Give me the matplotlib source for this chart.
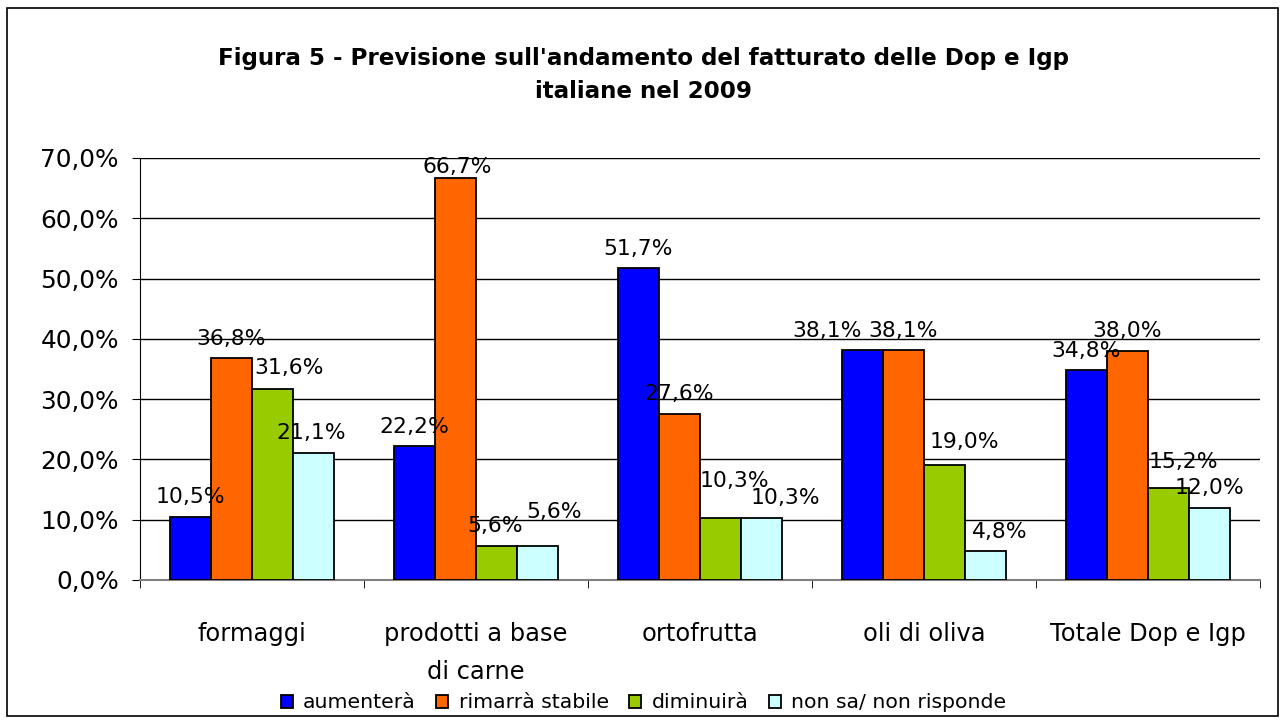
import matplotlib
matplotlib.use("Agg")
import matplotlib.pyplot as plt
import numpy as np
from matplotlib.patches import Rectangle

categories = ["formaggi", "prodotti a base\ndi carne", "ortofrutta", "oli di oliva", "Totale Dop e Igp"]
series_names = ["aumenterà", "rimarrà stabile", "diminuirà", "non sa/ non risponde"]
aumentera = [10.5, 22.2, 51.7, 38.1, 34.8]
stabile = [36.8, 66.7, 27.6, 38.1, 38.0]
diminuira = [31.6, 5.6, 10.3, 19.0, 15.2]
non_sa = [21.1, 5.6, 10.3, 4.8, 12.0]
colors = ["#0000FF", "#FF6600", "#99CC00", "#CCFFFF"]
yticks = [0, 10, 20, 30, 40, 50, 60, 70]
title_lines = ["Figura 5 - Previsione sull'andamento del fatturato delle Dop e Igp",
               "italiane nel 2009"]

# label nudges in pixels (dx, dy) per series, per category
label_nudge_px = [
    [(0, 0), (0, 0), (0, 0), (-35, 0), (0, 0)],
    [(0, 0), (2, -8.5), (0, 0), (0, 0), (0, 0)],
    [(17, 2), (-1, 1), (14, 17), (20, 4), (15, 7)],
    [(-2, 0), (17, 15), (24, 0), (14, 0), (0, 0)],
]

W, H = 1287, 726
plt.rcParams['font.family'] = ['DejaVu Sans']
fig = plt.figure(figsize=(W / 100, H / 100), dpi=100)
renderer = fig.canvas.get_renderer()


def fit_size(s, target_px, weight="normal"):
    t = fig.text(0, 0, s, fontsize=10, fontweight=weight)
    wpx = t.get_window_extent(renderer).width
    t.remove()
    return 10 * target_px / wpx


fs_tick = fit_size("70,0%", 78)
fs_cat = fit_size("formaggi", 109)
fs_lab = fit_size("10,5%", 69)
fs_leg = fit_size("aumenterà", 112)
fs_title = fit_size(title_lines[0], 853, "bold")

ax = fig.add_axes([140 / W, 1 - 580 / H, 1120 / W, 422 / H])

px = 0.72  # points per pixel
x = np.arange(len(categories))
w = 0.183
data = [aumentera, stabile, diminuira, non_sa]
for i, (vals, c, name) in enumerate(zip(data, colors, series_names)):
    pos = x + (i - 1.5) * w
    ax.bar(pos, vals, w, color=c, edgecolor="black", linewidth=1.3, label=name, zorder=3)
    for j, (p, v) in enumerate(zip(pos, vals)):
        dx, dy = label_nudge_px[i][j]
        ax.annotate(f"{v:.1f}%".replace(".", ","), xy=(p, v),
                    xytext=(dx * px, (13.5 + dy) * px), textcoords="offset points",
                    ha="center", va="baseline", fontsize=fs_lab, zorder=4,
                    annotation_clip=False)

ax.set_xlim(-0.5, len(categories) - 0.5)
ax.set_ylim(0, 70)
ax.set_yticks(yticks)
ax.set_yticklabels([f"{t:.1f}%".replace(".", ",") for t in yticks], fontsize=fs_tick)
ax.set_xticks(x)
ax.set_xticklabels(categories, fontsize=fs_cat, linespacing=1.78, va="top")
ax.set_xticks(np.arange(-0.5, len(categories), 1), minor=True)
ax.tick_params(axis="x", which="major", length=0, pad=30)
ax.tick_params(axis="x", which="minor", length=6, color="black")
ax.tick_params(axis="y", length=5.8, direction="out", pad=9.4, color="black")
ax.yaxis.grid(True, color="black", linewidth=1, zorder=0)
ax.set_axisbelow(True)
for s in ["top", "right"]:
    ax.spines[s].set_visible(False)
ax.spines["left"].set_color("black")
ax.spines["bottom"].set_color("#808080")
ax.spines["bottom"].set_linewidth(1.5)

fig.text(0.5, 1 - 58 / H, title_lines[0], ha="center", va="center",
         fontsize=fs_title, fontweight="bold")
fig.text(0.5, 1 - 91 / H, title_lines[1], ha="center", va="center",
         fontsize=fs_title, fontweight="bold")

fig.legend(loc="center", bbox_to_anchor=(0.5, 1 - 703 / H), ncol=4, frameon=False,
           fontsize=fs_leg, handlelength=0.6, handleheight=0.6, handletextpad=0.5,
           columnspacing=1.0, borderpad=0, borderaxespad=0)

fig.add_artist(Rectangle((7 / W, 1 - 716 / H), 1271 / W, 708 / H, transform=fig.transFigure,
                         fill=False, edgecolor="black", linewidth=1.2))
fig.savefig("out.png", dpi=100, facecolor="white")
